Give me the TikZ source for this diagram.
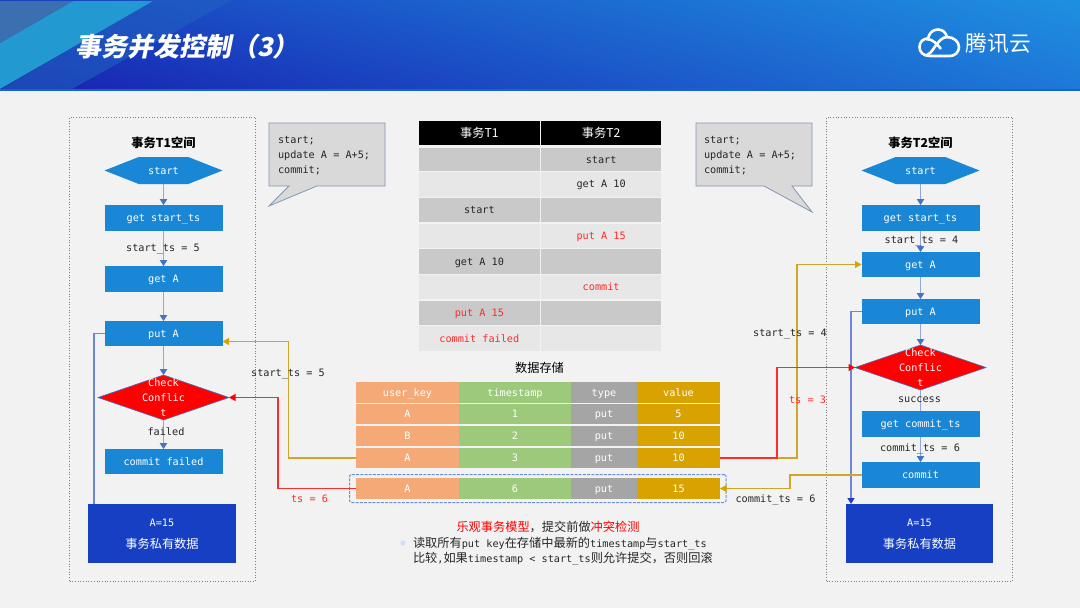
\documentclass[tikz,border=0pt]{standalone}
\usepackage{fontspec}
\usetikzlibrary{arrows.meta,shapes.geometric,shapes.symbols,shadings}
\setmainfont{DejaVu Sans Mono}
\newfontfamily\cjk{Noto Sans CJK SC}
\newfontfamily\cjktitle[FakeSlant=0.2]{Noto Sans CJK SC}
\newcommand\zh[1]{{\cjk\fontsize{12.2}{15}\selectfont #1}}
\newcommand\zhb[1]{{\cjk\bfseries\fontsize{12.2}{15}\selectfont #1}}
\definecolor{bgc}{HTML}{F2F2F2}
\definecolor{flowblue}{HTML}{1A86D6}
\definecolor{privblue}{HTML}{173FC4}
\definecolor{linec}{HTML}{8EAADB}
\definecolor{headc}{HTML}{4472C4}
\definecolor{sideline}{HTML}{6F86D6}
\definecolor{goldc}{HTML}{CFA52B}
\definecolor{redc}{HTML}{FF2A2A}
\definecolor{darkc}{HTML}{262626}
\definecolor{cala}{HTML}{D9D9D9}
\definecolor{calb}{HTML}{8497B0}
\definecolor{rowa}{HTML}{C9C9C9}
\definecolor{rowb}{HTML}{E7E7E7}
\definecolor{orangec}{HTML}{F4A977}
\definecolor{greenc}{HTML}{9DC97A}
\definecolor{greyc}{HTML}{A5A5A5}
\definecolor{yellc}{HTML}{D8A200}
\definecolor{hll}{HTML}{1820B0}
\definecolor{hlr}{HTML}{1E78D8}
\definecolor{hul}{HTML}{1A40C0}
\definecolor{hur}{HTML}{1E90E0}
\definecolor{band}{HTML}{2299D0}
\definecolor{band2}{HTML}{3A6FB0}
\definecolor{band3}{HTML}{2060C0}
\definecolor{bullet}{HTML}{CDDFF8}
\definecolor{dashc}{HTML}{6A8FD8}
\tikzset{
  base/.style={inner sep=0pt,outer sep=0pt,align=center,font=\fontsize{10.2}{15}\selectfont},
  one/.style={base,text height=7.4pt,text depth=0pt},
  flow/.style={one,fill=flowblue,text=white},
  priv/.style={base,fill=privblue,text=white,font=\fontsize{10.2}{22}\selectfont,text height=30pt,text depth=0pt},
  hexa/.style={one,shape=signal,signal to=east and west,signal pointer angle=43,fill=flowblue,text=white,minimum width=118pt,minimum height=27pt},
  dia/.style={base,shape=diamond,fill=red,draw=headc,line width=0.6pt,minimum width=131pt,minimum height=45pt},
  spaceb/.style={base,draw=gray,dotted,line width=0.7pt},
  lab/.style={one,text=darkc},
  redlab/.style={one,text=redc},
  cella/.style={one,fill=rowa,text=darkc},
  cellb/.style={one,fill=rowb,text=darkc},
  cellh/.style={base,fill=black,text=white},
  co/.style={one,fill=orangec,text=white},
  cg/.style={one,fill=greenc,text=white},
  cy/.style={one,fill=greyc,text=white},
  cv/.style={one,fill=yellc,text=white},
  vflow/.style={draw=linec,line width=0.9pt,-{Triangle[length=6pt,width=7.5pt,color=headc]}},
  sidel/.style={draw=sideline,line width=1.6pt},
  goldl/.style={draw=goldc,line width=1.2pt,-{Triangle[length=6.5pt,width=7pt,color=yellc]}},
  redl/.style={draw=redc,line width=1.2pt,-{Triangle[length=6.5pt,width=7pt,color=red]}},
  callout/.style={fill=cala,draw=calb,line width=0.8pt},
  calltext/.style={base,anchor=north west,align=left,text=darkc}
}
\newcommand\bx[7]{%
  \pgfmathsetmacro\bxcx{(#2+#4)/2}\pgfmathsetmacro\bxcy{(#3+#5)/2}%
  \pgfmathsetmacro\bxw{#4-#2}\pgfmathsetmacro\bxh{#5-#3}%
  \node[#6,minimum width=\bxw pt,minimum height=\bxh pt] (#1) at (\bxcx,\bxcy) {#7};}
\begin{document}
\begin{tikzpicture}[x=1pt,y=-1pt]
\useasboundingbox (0,0) rectangle (1080,608);
\fill[bgc] (0,0) rectangle (1080,608);
% header
\shade[lower left=hll,lower right=hlr,upper left=hul,upper right=hur] (0,0) rectangle (1080,90);
\fill[band3,opacity=.6] (70,90) -- (232,0) -- (153,0) -- (0,90) -- cycle;
\fill[band] (0,89) -- (153,1) -- (73,1) -- (0,43) -- cycle;
\fill[band2] (0,43) -- (73,1) -- (0,1) -- cycle;
\fill[privblue!80!cyan] (0,89) rectangle (1080,90.5);
\node[base,anchor=west,text=white] (title) at (75,47) {\cjktitle\bfseries\fontsize{26}{28}\selectfont 事务并发控制（3）};
% logo
\draw[white,line width=2.6pt,line join=round] (930,56) .. controls (923,56) and (919.5,52) .. (919.5,47) .. controls (919.5,42) and (923,38.5) .. (928,38.5) .. controls (929,33) and (933,29.5) .. (938,29.5) .. controls (943,29.5) and (946,33) .. (947,37) .. controls (954,37) and (959,42) .. (959,47) .. controls (959,52) and (955,56) .. (950,56) -- (930,56);
\draw[white,line width=2.6pt] (926,39) .. controls (933,39) and (937,44) .. (941,49);
\draw[white,line width=2.6pt] (947,37) .. controls (942,37) and (938,42) .. (934,48) .. controls (932,51) and (930,54) .. (927,55);
\node[base,text=white] (logo) at (998.5,43.5) {\cjk\fontsize{21.7}{24}\selectfont 腾讯云};
% space boxes
\bx{s1}{69.5}{117}{255.5}{581}{spaceb}{}
\bx{s2}{826.5}{117}{1012.5}{581}{spaceb}{}
\node[base] (s1t) at (163.5,143) {\zhb{事务T1空间}};
\node[base] (s2t) at (920.5,143) {\zhb{事务T2空间}};
% flow T1
\node[hexa] (h1) at (163.5,170.5) {start};
\bx{a1}{104.5}{205}{222.5}{231}{flow}{get start\_ts}
\bx{b1}{104.5}{266}{222.5}{292}{flow}{get A}
\bx{c1}{104.5}{321}{222.5}{346}{flow}{put A}
\node[dia,label={[base,text=white,yshift=-0.5pt]center:Check\\Conflic\\t}] (d1) at (163.5,397.5) {};
\bx{e1}{104.5}{449}{222.5}{474}{flow}{commit failed}
\bx{q1}{88}{504}{236}{563}{priv}{A=15\\\zh{事务私有数据}}
% flow T2
\node[hexa] (h2) at (920.5,170.5) {start};
\bx{a2}{861.5}{205}{979.5}{231}{flow}{get start\_ts}
\bx{b2}{861.5}{252}{979.5}{277}{flow}{get A}
\bx{c2}{861.5}{299}{979.5}{324}{flow}{put A}
\node[dia,label={[base,text=white,yshift=-0.5pt]center:Check\\Conflic\\t}] (d2) at (920.5,367.5) {};
\bx{e2}{861.5}{411}{979.5}{437}{flow}{get commit\_ts}
\bx{f2}{861.5}{462}{979.5}{488}{flow}{commit}
\bx{q2}{846}{504}{993}{563}{priv}{A=15\\\zh{事务私有数据}}
% callouts
\path[callout] (269,123) -- (385,123) -- (385,186) -- (317,186) -- (269,206) -- (289,186) -- (269,186) -- cycle;
\node[calltext] (ct1) at (278,136.5) {start;\\update A = A+5;\\commit;};
\path[callout] (696,123) -- (812,123) -- (812,186) -- (792,186) -- (812,212) -- (764,186) -- (696,186) -- cycle;
\node[calltext] (ct2) at (704,136.5) {start;\\update A = A+5;\\commit;};
% transaction table
\bx{th1}{419}{121}{539.7}{144.5}{cellh}{\zh{事务T1}}
\bx{th2}{541.3}{121}{661}{144.5}{cellh}{\zh{事务T2}}
\bx{t1a}{419}{148}{539.7}{171}{cella}{}
\bx{t1b}{541.3}{148}{661}{171}{cella}{start}
\bx{t2a}{419}{172}{539.7}{196.5}{cellb}{}
\bx{t2b}{541.3}{172}{661}{196.5}{cellb}{get A 10}
\bx{t3a}{419}{198}{539.7}{222.3}{cella}{start}
\bx{t3b}{541.3}{198}{661}{222.3}{cella}{}
\bx{t4a}{419}{223.7}{539.7}{248}{cellb}{}
\bx{t4b}{541.3}{223.7}{661}{248}{cellb,text=redc}{put A 15}
\bx{t5a}{419}{249.3}{539.7}{273.5}{cella}{get A 10}
\bx{t5b}{541.3}{249.3}{661}{273.5}{cella}{}
\bx{t6a}{419}{275}{539.7}{299}{cellb}{}
\bx{t6b}{541.3}{275}{661}{299}{cellb,text=redc}{commit}
\bx{t7a}{419}{300.5}{539.7}{324.5}{cella,text=redc}{put A 15}
\bx{t7b}{541.3}{300.5}{661}{324.5}{cella}{}
\bx{t8a}{419}{326}{539.7}{351}{cellb,text=redc}{commit failed}
\bx{t8b}{541.3}{326}{661}{351}{cellb}{}
% data table
\node[base] (dt) at (539.5,368) {\zh{数据存储}};
\bx{r0a}{356}{382}{459}{403}{co}{user\_key}
\bx{r0b}{459}{382}{571}{403}{cg}{timestamp}
\bx{r0c}{571}{382}{637}{403}{cy}{type}
\bx{r0d}{637}{382}{720}{403}{cv}{value}
\bx{r1a}{356}{404}{459}{424}{co}{A}
\bx{r1b}{459}{404}{571}{424}{cg}{1}
\bx{r1c}{571}{404}{637}{424}{cy}{put}
\bx{r1d}{637}{404}{720}{424}{cv}{5}
\bx{r2a}{356}{426}{459}{446}{co}{B}
\bx{r2b}{459}{426}{571}{446}{cg}{2}
\bx{r2c}{571}{426}{637}{446}{cy}{put}
\bx{r2d}{637}{426}{720}{446}{cv}{10}
\bx{r3a}{356}{448}{459}{468}{co}{A}
\bx{r3b}{459}{448}{571}{468}{cg}{3}
\bx{r3c}{571}{448}{637}{468}{cy}{put}
\bx{r3d}{637}{448}{720}{468}{cv}{10}
\bx{r4a}{356}{478}{459}{499}{co}{A}
\bx{r4b}{459}{478}{571}{499}{cg}{6}
\bx{r4c}{571}{478}{637}{499}{cy}{put}
\bx{r4d}{637}{478}{720}{499}{cv}{15}
\bx{rbox}{349.5}{474.5}{726}{502.5}{base,draw=dashc,dash pattern=on 3pt off 1.2pt,line width=1pt,rounded corners=1.5pt}{}
% bottom text
\node[base,text=darkc] (m1) at (548,527) {\zh{\textcolor{red}{乐观事务模型}，提交前做\textcolor{red}{冲突检测}}};
\fill[bullet] (403,543) circle (2.6);
\node[base,anchor=west,align=left,text=darkc] (m2) at (413,551.3) {\zh{读取所有}put key\zh{在存储中最新的}timestamp\zh{与}start\_ts\\\zh{比较},\zh{如果}timestamp < start\_ts\zh{则允许提交，否则回滚}};
% vertical connectors T1
\draw[vflow] (h1) -- (a1);
\draw[vflow] (a1) -- (b1);
\draw[vflow] (b1) -- (c1);
\draw[vflow] (c1) -- (d1);
\draw[vflow] (d1) -- (e1);
\draw[sidel] (c1.west) -| ([xshift=-68pt]q1.north);
% vertical connectors T2
\draw[vflow] (h2) -- (a2);
\draw[vflow] (a2) -- (b2);
\draw[vflow] (b2) -- (c2);
\draw[vflow] (c2) -- (d2);
\draw[draw=linec,line width=0.9pt] (d2) -- (e2);
\draw[vflow] (e2) -- (f2);
\draw[sidel,-{Triangle[length=6pt,width=7pt,color=privblue]}] (c2.west) -| ([xshift=-68.5pt]q2.north);
% data connectors
\coordinate (g1) at (288.5,400);
\coordinate (g2) at (797,400);
\coordinate (g3) at (790,480);
\coordinate (r1) at (278,440);
\coordinate (r2) at (777,420);
\draw[goldl] (r3a.west) -| (g1) |- ([yshift=-8pt]c1.east);
\draw[redl] (r4a.west) -| (r1) |- (d1.east);
\draw[goldl] (r3d.east) -| (g2) |- (b2.west);
\draw[redl] (r3d.east) -| (r2) |- (d2.west);
\draw[goldl] (f2.west) -| (g3) |- (r4d.east);
% labels
\node[lab] (l1) at (163,248) {start\_ts = 5};
\node[lab] (l2) at (288,373) {start\_ts = 5};
\node[redlab] (l3) at (309.5,499) {ts = 6};
\node[lab] (l4) at (921.5,240) {start\_ts = 4};
\node[lab] (l5) at (790,333) {start\_ts = 4};
\node[redlab] (l6) at (807.5,400) {ts = 3};
\node[lab] (l7) at (166,432) {failed};
\node[lab] (l8) at (919.5,399) {success};
\node[lab] (l9) at (920,448) {commit\_ts = 6};
\node[lab] (l10) at (775.5,499) {commit\_ts = 6};
\end{tikzpicture}
\end{document}
